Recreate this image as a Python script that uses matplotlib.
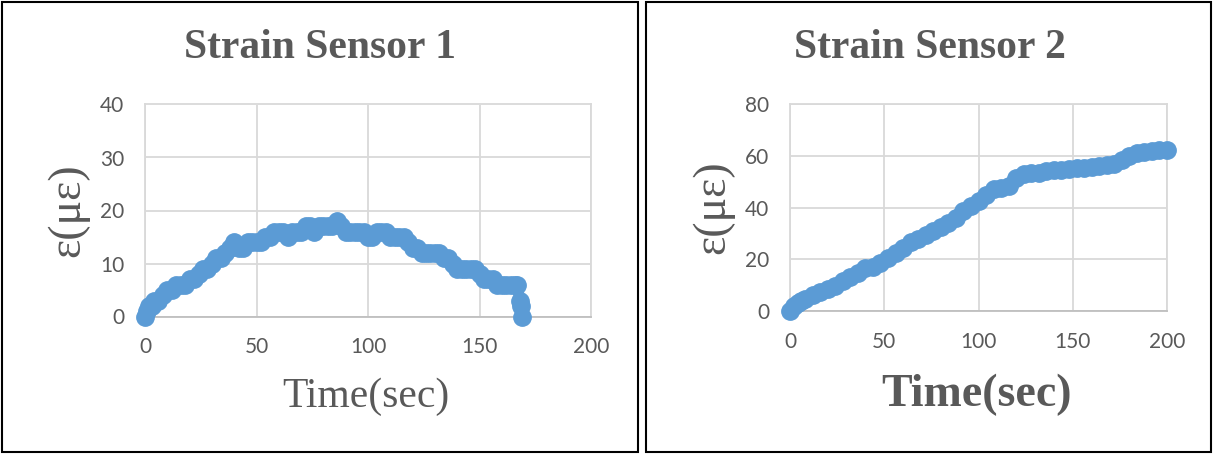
import matplotlib.pyplot as plt
from matplotlib.patches import Rectangle

# Strain Sensor 1
time1 = [0, 1, 2, 3, 4, 6, 8, 10, 12, 14, 16, 18, 20, 22, 24, 26, 28, 30, 32, 34,
         36, 38, 40, 42, 44, 46, 48, 50, 52, 54, 56, 58, 60, 62, 64, 66, 68, 70, 72, 74,
         76, 78, 80, 82, 84, 86, 88, 90, 92, 94, 96, 98, 100, 102, 104, 106, 108, 110, 112, 114,
         116, 118, 120, 122, 124, 126, 128, 130, 132, 134, 136, 138, 140, 142, 144, 146, 148, 150, 152, 154,
         156, 158, 160, 162, 164, 166, 167, 168, 168.5, 169]
strain1 = [0, 1, 2, 2, 3, 3, 4, 5, 5, 6, 6, 6, 7, 7, 8, 9, 9, 10, 11, 11,
           12, 13, 14, 13, 13, 14, 14, 14, 14, 15, 15, 16, 16, 16, 15, 16, 16, 16, 17, 17,
           16, 17, 17, 17, 17, 18, 17, 16, 16, 16, 16, 16, 15, 15, 16, 16, 16, 15, 15, 15,
           15, 14, 13, 13, 12, 12, 12, 12, 12, 11, 11, 10, 9, 9, 9, 9, 9, 8, 7, 7,
           7, 6, 6, 6, 6, 6, 6, 3, 2, 0]

# Strain Sensor 2
time2 = [0, 2, 4, 6, 8, 12, 16, 20, 24, 28, 32, 36, 40, 44, 48, 52, 56, 60, 64, 68,
         72, 76, 80, 84, 88, 92, 96, 100, 104, 108, 112, 116, 120, 124, 128, 132, 136, 140, 144, 148,
         152, 156, 160, 164, 168, 172, 176, 180, 184, 188, 192, 196, 200]
strain2 = [0, 2, 3, 4, 4.8, 6, 7.5, 8.5, 9.5, 11.5, 13, 14.5, 16.5, 17, 18.5, 20.5, 22.5, 24.5, 26.5, 28,
           29.5, 31, 32.5, 34, 36, 38.5, 40.5, 42.5, 45, 47, 47.5, 48.5, 51.5, 53, 53.5, 53.5, 54, 54.5, 54.5, 55,
           55.2, 55.2, 55.5, 56, 56.5, 57, 58.5, 60, 61, 61.5, 62, 62.3, 62.3]

xticks = [0, 50, 100, 150, 200]
yticks1 = [0, 10, 20, 30, 40]
yticks2 = [0, 20, 40, 60, 80]

blue = '#5B9BD5'
grey_txt = '#595959'
W, H = 1214, 454

fig = plt.figure(figsize=(W / 100, H / 100), dpi=100)

# panel borders
fig.patches.append(Rectangle((2 / W, 2 / H), 636 / W, 450 / H, transform=fig.transFigure,
                             fill=False, edgecolor='black', lw=1.5))
fig.patches.append(Rectangle((646 / W, 2 / H), 565 / W, 450 / H, transform=fig.transFigure,
                             fill=False, edgecolor='black', lw=1.5))


def style_axes(ax, yticks):
    ax.set_xlim(0, 200)
    ax.set_ylim(yticks[0], yticks[-1])
    ax.set_xticks(xticks)
    ax.set_yticks(yticks)
    ax.grid(True, color='#d9d9d9', lw=1.3)
    ax.set_axisbelow(True)
    for s in ax.spines.values():
        s.set_color('#d9d9d9')
        s.set_linewidth(1.3)
    ax.spines['bottom'].set_color('#bfbfbf')
    ax.tick_params(length=0, labelsize=15, labelcolor=grey_txt, pad=15)
    for lab in ax.get_xticklabels() + ax.get_yticklabels():
        lab.set_fontfamily('Lato')


ax1 = fig.add_axes([145 / W, 1 - 316.5 / H, 446 / W, 212 / H])
ax1.plot(time1, strain1, color=blue, lw=8, marker='o', ms=12.5, clip_on=False, zorder=3)
style_axes(ax1, yticks1)

ax2 = fig.add_axes([790 / W, 1 - 311 / H, 377 / W, 207 / H])
ax2.plot(time2, strain2, color=blue, lw=8, marker='o', ms=12.5, clip_on=False, zorder=3)
style_axes(ax2, yticks2)

serif = 'Liberation Serif'
fig.text(320 / W, 1 - 48 / H, 'Strain Sensor 1', ha='center', va='center', fontsize=30,
         fontweight='bold', family=serif, color=grey_txt)
fig.text(930 / W, 1 - 48 / H, 'Strain Sensor 2', ha='center', va='center', fontsize=30,
         fontweight='bold', family=serif, color=grey_txt)
fig.text(68 / W, 1 - 210 / H, 'ε(με)', rotation=90, ha='center', va='center', fontsize=33,
         family=serif, color=grey_txt)
fig.text(713 / W, 1 - 207 / H, 'ε(με)', rotation=90, ha='center', va='center', fontsize=33,
         family=serif, color=grey_txt)
fig.text(366 / W, 1 - 397 / H, 'Time(sec)', ha='center', va='center', fontsize=30,
         family=serif, color=grey_txt)
fig.text(976 / W, 1 - 395 / H, 'Time(sec)', ha='center', va='center', fontsize=33,
         fontweight='bold', family=serif, color=grey_txt)

fig.savefig('out.png', dpi=100)
